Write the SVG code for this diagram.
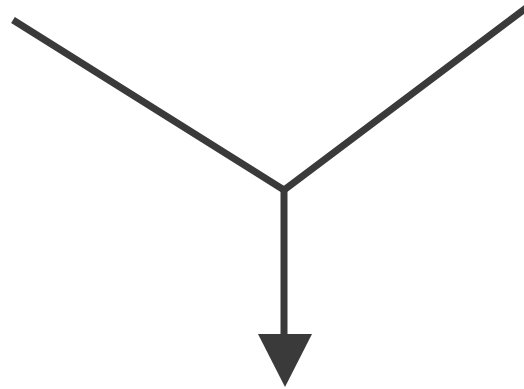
<svg xmlns="http://www.w3.org/2000/svg" width="524" height="389" viewBox="0 0 524 389">
<style>.ln{stroke:#3a3a3a;stroke-width:7;fill:none;stroke-linejoin:miter}.hd{fill:#3a3a3a}</style>
<rect width="524" height="389" fill="#ffffff"/>
<g id="connectors">
<polyline class="ln" points="13,20 284,190 526,8"/>
<line class="ln" x1="284" y1="190" x2="284" y2="336"/>
<polygon class="hd" points="258,334 312,334 285,387"/>
</g>
</svg>
